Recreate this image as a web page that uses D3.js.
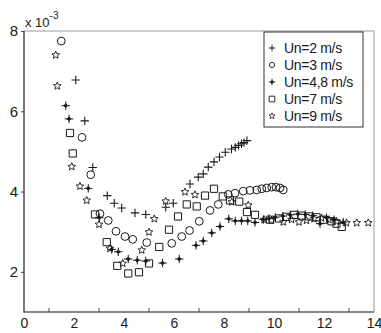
<!DOCTYPE html>
<html>
<head>
<meta charset="utf-8">
<script src="https://cdn.jsdelivr.net/npm/d3@7"></script>
<style>
  body { margin: 0; background: #fff; }
  svg { font-family: "Liberation Sans", Arial, sans-serif; }
</style>
</head>
<body>
<div id="chart"></div>
<script>
// values in units of 1e-3
const xTicks = [0, 2, 4, 6, 8, 10, 12, 14];
const yTicks = [2, 4, 6, 8];
const seriesNames = ["Un=2 m/s", "Un=3 m/s", "Un=4,8 m/s", "Un=7 m/s", "Un=9 m/s"];

const un2 = [
  [2.07, 6.78], [2.43, 5.76], [2.75, 4.60], [3.33, 3.90], [3.61, 3.71], [3.91, 3.59],
  [4.44, 3.47], [4.87, 3.43], [5.67, 3.61], [5.97, 3.71], [6.64, 4.19], [6.97, 4.36],
  [7.17, 4.44], [7.37, 4.61], [7.6, 4.74], [7.82, 4.86], [8.05, 4.98], [8.3, 5.06],
  [8.45, 5.10], [8.58, 5.15], [8.7, 5.19], [8.8, 5.22], [8.92, 5.27]
];
const un3 = [
  [1.49, 7.75], [2.32, 5.35], [2.67, 4.42], [3.04, 3.45], [3.37, 3.28], [3.68, 3.01],
  [4.04, 2.88], [4.35, 2.81], [4.91, 2.73], [5.91, 2.71], [6.31, 2.88], [6.62, 3.03],
  [7.01, 3.26], [7.44, 3.53], [7.77, 3.68], [8.17, 3.93], [8.44, 3.96], [8.77, 4.01],
  [9.04, 4.03], [9.31, 4.04], [9.51, 4.07], [9.71, 4.09], [9.91, 4.11], [10.08, 4.11],
  [10.24, 4.09], [10.37, 4.04]
];
const un48 = [
  [1.67, 6.14], [1.80, 5.81], [2.57, 4.08], [3.01, 3.35], [3.51, 2.56], [3.77, 2.50],
  [4.17, 2.32], [4.53, 2.29], [4.87, 2.27], [5.54, 2.22], [6.21, 2.32], [6.88, 2.66],
  [7.17, 2.77], [7.51, 2.97], [7.84, 3.13], [8.19, 3.32], [8.45, 3.27], [8.7, 3.27],
  [8.95, 3.27], [9.24, 3.23], [9.57, 3.30], [9.8, 3.33], [10.05, 3.36], [10.35, 3.39],
  [10.65, 3.42], [10.95, 3.44], [11.25, 3.43], [11.55, 3.40], [11.84, 3.20], [12.1, 3.35],
  [12.4, 3.30], [12.77, 3.24]
];
const un7 = [
  [1.84, 5.46], [1.95, 4.95], [2.84, 3.43], [3.31, 2.74], [3.73, 2.15], [4.17, 1.96],
  [4.60, 1.99], [5.00, 2.21], [5.41, 2.62], [5.80, 3.05], [6.16, 3.38], [6.51, 3.68],
  [6.91, 3.63], [7.24, 3.90], [7.60, 4.07], [7.95, 3.88], [8.24, 3.78], [8.61, 3.75],
  [8.92, 3.49], [9.24, 3.42], [9.84, 3.30], [10.2, 3.33], [10.5, 3.37], [10.8, 3.42],
  [11.1, 3.40], [11.4, 3.38], [11.7, 3.36], [12.0, 3.30], [12.3, 3.26], [12.5, 3.20],
  [12.71, 3.12]
];
const un9 = [
  [1.27, 7.40], [1.33, 6.63], [1.91, 4.62], [2.24, 4.13], [2.51, 3.78], [3.00, 3.18],
  [3.44, 2.58], [3.95, 2.21], [4.71, 2.54], [5.00, 2.99], [5.21, 3.32], [5.67, 3.76],
  [6.44, 3.99], [6.84, 3.92], [8.31, 3.74], [8.97, 3.66], [9.6, 3.30], [9.9, 3.28],
  [10.37, 3.24], [10.7, 3.30], [11.0, 3.24], [11.3, 3.28], [11.6, 3.32], [11.9, 3.34],
  [12.2, 3.30], [12.5, 3.26], [12.9, 3.22], [13.31, 3.22], [13.77, 3.22]
];

const allSeries = [un2, un3, un48, un7, un9];

const width = 381, height = 333;
const plotL = 24, plotR = 374, plotT = 31, plotB = 312;
const ink = "#1a1a1a";

const x = d3.scaleLinear().domain([0, 14]).range([plotL, plotR]);
const y = d3.scaleLinear().domain([1, 8]).range([plotB, plotT]);

// marker shapes, drawn around 0,0 with a half-size s
const plusShape = s => `M${-s},0H${s}M0,${-s}V${s}`;
const circleShape = s => `M${s},0A${s},${s} 0 1,1 ${-s},0A${s},${s} 0 1,1 ${s},0Z`;
const squareShape = s => `M${-s},${-s}H${s}V${s}H${-s}Z`;
// thin plus with a small filled diamond in the middle
const starBurst = s => {
  const r = s * 0.45;
  return `M${-s},0H${s}M0,${-s}V${s}M0,${-r}L${r},0L0,${r}L${-r},0Z`;
};
const fiveStar = s => {
  const pts = d3.range(10).map(i => {
    const a = -Math.PI / 2 + i * Math.PI / 5;
    const r = i % 2 === 0 ? s : s * 0.45;
    return [r * Math.cos(a), r * Math.sin(a)];
  });
  return "M" + pts.map(p => p.join(",")).join("L") + "Z";
};

const markers = [
  { path: plusShape, size: 4.2, fill: "none", sw: 1.1, lsize: 3.3 },
  { path: circleShape, size: 3.9, fill: "none", sw: 1, lsize: 2.6 },
  { path: starBurst, size: 4.2, fill: ink, sw: 1, lsize: 3.3 },
  { path: squareShape, size: 3.6, fill: "none", sw: 1, lsize: 2.8 },
  { path: fiveStar, size: 4, fill: "none", sw: 0.9, lsize: 3.2 }
];

const svg = d3.select("#chart").append("svg")
  .attr("width", width)
  .attr("height", height);

// frame
svg.append("rect")
  .attr("x", plotL).attr("y", plotT)
  .attr("width", plotR - plotL).attr("height", plotB - plotT)
  .attr("fill", "none").attr("stroke", "#9a9a9a").attr("stroke-width", 1);

svg.append("path")
  .attr("d", `M${plotL},${plotT}V${plotB}H${plotR}`)
  .attr("fill", "none").attr("stroke", "#444").attr("stroke-width", 1.2);

// x axis: ticks at odd values, labels at even values
const xAxis = d3.axisBottom(x).tickValues(xTicks).tickSize(0).tickPadding(6).tickFormat(d3.format("d"));
const gx = svg.append("g")
  .attr("transform", `translate(0,${plotB})`)
  .call(xAxis);
gx.select(".domain").remove();
gx.selectAll("text").attr("font-size", 14).attr("fill", ink).attr("font-family", "Liberation Sans, Arial, sans-serif");

svg.append("g").selectAll("line")
  .data(d3.range(1, 14, 2)).enter()
  .append("line")
  .attr("x1", d => x(d)).attr("x2", d => x(d))
  .attr("y1", plotB).attr("y2", plotB - 4)
  .attr("stroke", "#444");

// y axis
const yAxis = d3.axisLeft(y).tickValues(yTicks).tickSize(3).tickPadding(3).tickFormat(d3.format("d"));
const gy = svg.append("g")
  .attr("transform", `translate(${plotL},0)`)
  .call(yAxis);
gy.select(".domain").remove();
gy.selectAll("line").attr("stroke", "#444");
gy.selectAll("text").attr("font-size", 15).attr("fill", ink).attr("font-family", "Liberation Sans, Arial, sans-serif");

// exponent label
const expo = svg.append("text")
  .attr("x", plotL + 1).attr("y", plotT - 4)
  .attr("font-size", 13).attr("fill", ink);
expo.append("tspan").text("x 10");
expo.append("tspan").attr("dy", -8).attr("font-size", 10).text("-3");

// points
allSeries.forEach((data, i) => {
  const m = markers[i];
  svg.append("g").selectAll("path")
    .data(data).enter()
    .append("path")
    .attr("transform", d => `translate(${x(d[0])},${y(d[1])})`)
    .attr("d", m.path(m.size))
    .attr("fill", m.fill)
    .attr("stroke", ink)
    .attr("stroke-width", m.sw);
});

// legend
const legend = svg.append("g");
legend.append("rect")
  .attr("x", 264).attr("y", 32)
  .attr("width", 99).attr("height", 95)
  .attr("fill", "#fff").attr("stroke", "#333").attr("stroke-width", 1);

seriesNames.forEach((name, i) => {
  const ly = 48 + i * 17;
  const m = markers[i];
  legend.append("path")
    .attr("transform", `translate(272,${ly})`)
    .attr("d", m.path(m.lsize))
    .attr("fill", m.fill)
    .attr("stroke", ink)
    .attr("stroke-width", m.sw * 0.9);
  legend.append("text")
    .attr("x", 284).attr("y", ly + 5)
    .attr("font-size", 14)
    .attr("letter-spacing", -0.3)
    .attr("fill", ink)
    .text(name);
});
</script>
</body>
</html>
